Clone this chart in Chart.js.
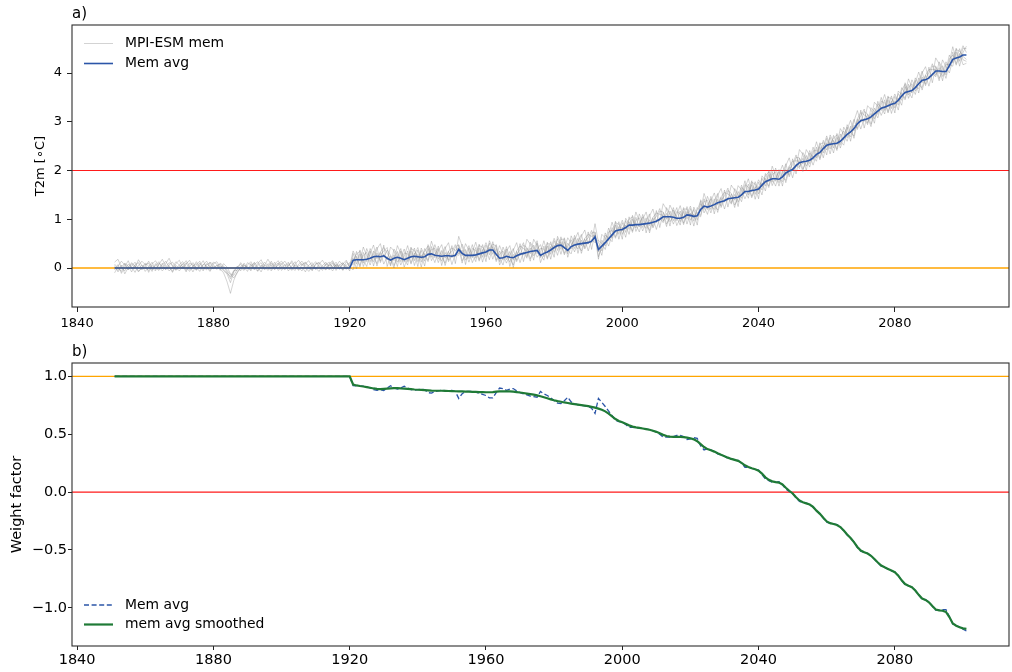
<!DOCTYPE html>
<html>
<head>
<meta charset="utf-8">
<title>T2m ensemble and weight factor</title>
<script src="https://cdn.jsdelivr.net/npm/chart.js@4.4.1/dist/chart.umd.min.js"></script>
<style>
    html, body { margin: 0; padding: 0; background: #ffffff; }
    #wrap { position: relative; width: 1012px; height: 672px; }
    canvas { position: absolute; left: 0; }
    #temp-chart { top: 0; }
    #weight-chart { top: 336px; }
</style>
</head>
<body>
<div id="wrap">
    <canvas id="temp-chart" width="1012" height="336"></canvas>
    <canvas id="weight-chart" width="1012" height="336"></canvas>
</div>
<script>
// Annual values, first year 1851
const firstYear = 1851;
const yearTicks = [1840, 1880, 1920, 1960, 2000, 2040, 2080];
const tempTicks = [0, 1, 2, 3, 4];
const weightTicks = [-1, -0.5, 0, 0.5, 1];

// T2m ensemble mean
const memAvg = [
    0, 0, 0, 0, 0, 0, 0, 0, 0, 0,
    0, 0, 0, 0, 0, 0, 0, 0, 0, 0,
    0, 0, 0, 0, 0, 0, 0, 0, 0, 0,
    0, 0, 0, 0, 0, 0, 0, 0, 0, 0,
    0, 0, 0, 0, 0, 0, 0, 0, 0, 0,
    0, 0, 0, 0, 0, 0, 0, 0, 0, 0,
    0, 0, 0, 0, 0, 0, 0, 0, 0, 0,
    0.16, 0.17, 0.17, 0.17, 0.18, 0.20, 0.23, 0.24, 0.23, 0.25,
    0.20, 0.16, 0.20, 0.22, 0.20, 0.17, 0.20, 0.23, 0.24, 0.23,
    0.22, 0.23, 0.28, 0.29, 0.26, 0.25, 0.24, 0.25, 0.25, 0.24,
    0.26, 0.38, 0.30, 0.26, 0.26, 0.26, 0.27, 0.29, 0.31, 0.33,
    0.37, 0.37, 0.28, 0.20, 0.21, 0.24, 0.22, 0.21, 0.25, 0.28,
    0.30, 0.32, 0.34, 0.35, 0.36, 0.26, 0.30, 0.33, 0.37, 0.42,
    0.46, 0.47, 0.42, 0.36, 0.44, 0.47, 0.49, 0.50, 0.51, 0.52,
    0.55, 0.64, 0.38, 0.45, 0.52, 0.60, 0.68, 0.76, 0.78, 0.79,
    0.83, 0.88, 0.88, 0.89, 0.89, 0.90, 0.91, 0.92, 0.94, 0.96,
    1.00, 1.05, 1.05, 1.05, 1.04, 1.02, 1.02, 1.04, 1.09, 1.08,
    1.06, 1.07, 1.20, 1.27, 1.25, 1.27, 1.30, 1.34, 1.36, 1.38,
    1.42, 1.43, 1.44, 1.45, 1.50, 1.57, 1.57, 1.59, 1.60, 1.62,
    1.70, 1.77, 1.80, 1.83, 1.83, 1.82, 1.87, 1.95, 1.99, 2.02,
    2.10, 2.16, 2.18, 2.19, 2.21, 2.26, 2.33, 2.37, 2.45, 2.52,
    2.54, 2.55, 2.56, 2.60, 2.67, 2.74, 2.79, 2.86, 2.96, 3.02,
    3.04, 3.06, 3.10, 3.16, 3.22, 3.28, 3.30, 3.33, 3.36, 3.38,
    3.44, 3.53, 3.60, 3.62, 3.64, 3.70, 3.78, 3.85, 3.86, 3.90,
    3.97, 4.04, 4.04, 4.03, 4.03, 4.15, 4.28, 4.31, 4.33, 4.37,
    4.37,
];

// MPI-ESM members
const member1 = [
    0.05, -0.08, 0.02, 0.10, -0.03, 0.04, 0.12, -0.02, 0.06, 0.01,
    -0.05, 0.08, 0.15, 0.03, -0.06, 0.02, 0.11, 0.05, -0.04, 0.07,
    0.13, 0.02, -0.07, 0.04, 0.09, -0.01, 0.06, 0.14, 0.03, -0.02,
    0.05, 0.08, -0.04, -0.10, -0.18, -0.05, -0.05, 0.03, 0.07, -0.02,
    0.04, 0.10, -0.06, 0.02, 0.12, 0.05, -0.03, 0.08, 0.15, 0.02,
    -0.04, 0.06, 0.11, -0.02, 0.04, 0.09, 0.01, -0.07, 0.05, 0.13,
    0.03, -0.05, 0.07, 0.12, 0.00, 0.06, -0.03, 0.10, 0.04, -0.06,
    0.30, 0.08, 0.37, 0.17, 0.03, 0.30, 0.47, 0.19, 0.32, 0.08,
    0.23, 0.04, 0.39, 0.27, 0.06, 0.24, 0.46, 0.20, 0.41, 0.13,
    0.27, 0.04, 0.40, 0.22, 0.48, 0.27, 0.14, 0.40, 0.52, 0.21,
    0.43, 0.48, 0.15, 0.24, 0.46, 0.21, 0.42, 0.17, 0.38, 0.13,
    0.56, 0.40, 0.13, 0.29, 0.35, 0.17, 0.34, 0.01, 0.28, 0.38,
    0.52, 0.23, 0.41, 0.16, 0.51, 0.28, 0.16, 0.50, 0.49, 0.39,
    0.60, 0.38, 0.62, 0.36, 0.29, 0.57, 0.73, 0.45, 0.60, 0.35,
    0.58, 0.52, 0.57, 0.50, 0.38, 0.67, 0.94, 0.73, 0.95, 0.69,
    0.88, 0.69, 1.00, 0.82, 1.11, 0.92, 0.81, 1.07, 1.21, 0.93,
    1.17, 1.15, 0.90, 1.03, 1.24, 0.97, 1.17, 0.92, 1.16, 0.88,
    1.25, 1.10, 1.05, 1.36, 1.39, 1.20, 1.42, 1.14, 1.39, 1.48,
    1.64, 1.34, 1.51, 1.26, 1.65, 1.59, 1.43, 1.76, 1.72, 1.59,
    1.84, 1.68, 2.00, 1.83, 1.68, 1.92, 2.11, 1.90, 2.08, 1.85,
    2.13, 2.04, 2.37, 2.24, 2.07, 2.33, 2.59, 2.34, 2.62, 2.42,
    2.59, 2.36, 2.68, 2.53, 2.89, 2.76, 2.69, 3.01, 3.23, 2.99,
    3.21, 3.16, 2.95, 3.14, 3.42, 3.23, 3.45, 3.21, 3.43, 3.18,
    3.63, 3.56, 3.45, 3.71, 3.78, 3.63, 3.90, 3.65, 3.89, 4.00,
    4.19, 3.95, 4.11, 3.84, 4.18, 4.17, 4.14, 4.48, 4.45, 4.34,
    4.28,
];
const member2 = [
    -0.10, 0.03, 0.14, 0.06, -0.04, 0.09, 0.00, 0.17, 0.05, -0.07,
    0.02, 0.12, -0.03, 0.07, 0.18, 0.04, -0.06, 0.01, 0.13, 0.06,
    -0.02, 0.08, 0.16, 0.03, -0.05, 0.10, 0.02, -0.04, 0.12, 0.07,
    -0.03, 0.04, 0.02, -0.08, -0.22, -0.06, 0.02, 0.08, -0.03, 0.11,
    0.06, -0.04, 0.09, 0.17, 0.03, -0.05, 0.10, 0.04, -0.02, 0.08,
    0.14, 0.02, -0.05, 0.08, 0.16, 0.05, 0.11, 0.00, -0.04, 0.07,
    0.12, 0.04, -0.03, 0.09, 0.15, 0.02, 0.07, -0.05, 0.06, 0.11,
    0.06, 0.34, 0.14, 0.43, 0.25, 0.06, 0.28, 0.43, 0.11, 0.28,
    0.17, 0.43, 0.35, 0.12, 0.22, 0.39, 0.13, 0.35, 0.05, 0.28,
    0.02, 0.30, 0.16, 0.44, 0.21, 0.45, 0.22, 0.10, 0.35, 0.41,
    0.36, 0.41, 0.10, 0.38, 0.19, 0.40, 0.36, 0.14, 0.34, 0.52,
    0.34, 0.49, 0.45, 0.06, 0.23, 0.39, 0.03, 0.28, 0.16, 0.50,
    0.13, 0.41, 0.29, 0.59, 0.46, 0.11, 0.30, 0.53, 0.28, 0.56,
    0.36, 0.64, 0.39, 0.62, 0.51, 0.33, 0.54, 0.69, 0.39, 0.55,
    0.52, 0.91, 0.53, 0.35, 0.54, 0.82, 0.61, 0.88, 0.59, 0.84,
    0.63, 0.95, 0.76, 1.04, 0.84, 1.10, 0.89, 0.77, 1.04, 1.13,
    1.10, 1.08, 0.85, 1.17, 0.97, 1.16, 1.11, 0.89, 1.12, 1.27,
    1.03, 1.19, 1.37, 1.13, 1.27, 1.42, 1.11, 1.41, 1.27, 1.60,
    1.25, 1.52, 1.39, 1.69, 1.60, 1.42, 1.57, 1.79, 1.51, 1.76,
    1.60, 1.94, 1.77, 2.09, 1.90, 1.68, 1.92, 2.14, 1.87, 2.05,
    2.07, 2.43, 2.33, 2.09, 2.23, 2.48, 2.26, 2.49, 2.26, 2.57,
    2.34, 2.62, 2.44, 2.75, 2.62, 2.94, 2.77, 2.71, 3.06, 3.19,
    3.14, 3.09, 2.90, 3.28, 3.15, 3.42, 3.39, 3.18, 3.39, 3.57,
    3.41, 3.65, 3.77, 3.48, 3.66, 3.85, 3.59, 3.92, 3.77, 4.12,
    3.80, 4.13, 3.99, 4.27, 4.13, 4.00, 4.28, 4.51, 4.24, 4.51,
    4.50,
];
const member3 = [
    0.12, 0.18, 0.01, -0.06, 0.08, 0.02, -0.09, 0.05, 0.14, 0.07,
    0.10, -0.04, 0.05, 0.13, -0.02, 0.09, 0.20, 0.04, -0.05, 0.03,
    0.07, 0.15, 0.04, -0.08, 0.06, 0.14, -0.03, 0.09, 0.02, 0.12,
    0.08, -0.02, -0.10, -0.28, -0.52, -0.25, -0.08, -0.01, 0.05, 0.03,
    -0.06, 0.07, 0.13, -0.01, 0.05, 0.18, 0.06, -0.04, 0.09, 0.14,
    0.05, 0.12, -0.03, 0.06, 0.01, -0.06, 0.09, 0.15, 0.03, -0.02,
    0.08, 0.16, 0.05, -0.04, 0.10, 0.03, 0.14, 0.06, -0.02, 0.09,
    0.21, -0.02, 0.29, 0.10, 0.40, 0.22, 0.13, 0.39, 0.50, 0.22,
    0.37, 0.26, 0.05, 0.20, 0.40, 0.12, 0.35, 0.11, 0.31, 0.03,
    0.41, 0.26, 0.13, 0.38, 0.40, 0.18, 0.36, 0.05, 0.28, 0.34,
    0.48, 0.29, 0.37, 0.07, 0.41, 0.28, 0.13, 0.46, 0.43, 0.30,
    0.51, 0.28, 0.48, 0.20, 0.06, 0.34, 0.46, 0.16, 0.34, 0.11,
    0.33, 0.20, 0.53, 0.40, 0.22, 0.33, 0.56, 0.30, 0.54, 0.32,
    0.51, 0.28, 0.54, 0.29, 0.66, 0.49, 0.39, 0.65, 0.78, 0.49,
    0.72, 0.74, 0.23, 0.43, 0.72, 0.55, 0.83, 0.64, 0.85, 0.59,
    1.02, 0.91, 0.73, 0.98, 1.03, 0.83, 1.03, 0.72, 0.97, 1.06,
    1.22, 0.96, 1.12, 0.86, 1.19, 1.04, 0.88, 1.21, 1.21, 1.05,
    1.20, 0.98, 1.40, 1.27, 1.10, 1.37, 1.54, 1.29, 1.45, 1.21,
    1.45, 1.31, 1.63, 1.50, 1.36, 1.64, 1.83, 1.56, 1.77, 1.52,
    1.75, 1.58, 1.92, 1.76, 2.05, 1.84, 1.77, 2.10, 2.26, 1.99,
    2.27, 2.26, 2.03, 2.17, 2.41, 2.21, 2.48, 2.25, 2.52, 2.32,
    2.73, 2.58, 2.41, 2.69, 2.81, 2.67, 2.91, 2.66, 2.99, 3.12,
    3.26, 2.97, 3.17, 2.97, 3.37, 3.30, 3.16, 3.50, 3.48, 3.35,
    3.58, 3.44, 3.80, 3.62, 3.49, 3.80, 4.02, 3.80, 3.95, 3.73,
    4.00, 3.92, 4.23, 4.08, 3.89, 4.22, 4.54, 4.28, 4.50, 4.27,
    4.24,
];
const member4 = [
    -0.04, 0.07, -0.11, 0.03, 0.15, -0.02, 0.05, -0.08, 0.01, 0.10,
    0.04, -0.07, 0.09, -0.03, 0.06, 0.14, 0.02, -0.09, 0.05, 0.00,
    0.09, -0.05, 0.03, 0.11, -0.04, 0.05, 0.15, 0.01, -0.07, 0.04,
    0.00, 0.10, 0.04, -0.05, -0.14, -0.20, -0.10, 0.01, -0.05, 0.06,
    0.13, 0.01, -0.07, 0.06, -0.02, 0.09, 0.03, 0.12, -0.05, 0.01,
    0.07, -0.06, 0.04, 0.13, -0.03, 0.02, -0.08, 0.06, 0.11, 0.00,
    -0.07, 0.05, 0.12, 0.01, -0.06, 0.08, 0.02, -0.04, 0.13, 0.03,
    -0.04, 0.24, 0.05, 0.32, 0.13, 0.40, 0.21, 0.09, 0.33, 0.42,
    0.30, 0.19, 0.00, 0.34, 0.13, 0.31, 0.29, 0.08, 0.27, 0.42,
    0.19, 0.35, 0.45, 0.15, 0.28, 0.40, 0.05, 0.32, 0.16, 0.46,
    0.09, 0.47, 0.25, 0.50, 0.36, 0.11, 0.27, 0.49, 0.22, 0.47,
    0.27, 0.54, 0.25, 0.46, 0.28, 0.10, 0.27, 0.40, 0.13, 0.31,
    0.27, 0.59, 0.49, 0.25, 0.38, 0.48, 0.23, 0.45, 0.18, 0.47,
    0.26, 0.54, 0.30, 0.51, 0.39, 0.67, 0.47, 0.35, 0.61, 0.69,
    0.65, 0.67, 0.18, 0.57, 0.45, 0.74, 0.77, 0.61, 0.81, 0.98,
    0.80, 1.00, 1.05, 0.75, 0.91, 1.05, 0.72, 0.99, 0.85, 1.18,
    0.83, 1.14, 1.00, 1.29, 1.14, 0.87, 1.02, 1.24, 1.00, 1.22,
    0.96, 1.24, 1.17, 1.53, 1.32, 1.13, 1.35, 1.53, 1.24, 1.41,
    1.39, 1.70, 1.59, 1.35, 1.52, 1.79, 1.50, 1.71, 1.41, 1.67,
    1.50, 1.84, 1.68, 1.98, 1.78, 2.02, 1.85, 1.80, 2.09, 2.19,
    2.20, 2.19, 1.98, 2.31, 2.14, 2.40, 2.42, 2.22, 2.48, 2.71,
    2.51, 2.67, 2.73, 2.46, 2.69, 2.89, 2.60, 2.93, 2.87, 3.24,
    2.87, 3.15, 3.05, 3.40, 3.32, 3.13, 3.30, 3.53, 3.27, 3.52,
    3.34, 3.70, 3.57, 3.88, 3.71, 3.56, 3.83, 4.04, 3.74, 3.93,
    3.94, 4.31, 4.19, 3.93, 4.05, 4.37, 4.21, 4.43, 4.14, 4.42,
    4.55,
];
const member5 = [
    0.02, -0.05, 0.06, -0.12, 0.01, 0.11, 0.04, -0.06, -0.01, 0.08,
    -0.09, 0.05, 0.00, -0.05, 0.10, -0.04, 0.07, 0.12, 0.01, -0.06,
    0.04, -0.08, 0.10, 0.06, 0.01, -0.07, 0.08, 0.04, -0.05, 0.09,
    0.13, 0.02, -0.06, -0.12, -0.30, -0.08, 0.04, -0.06, 0.10, 0.00,
    -0.03, 0.12, 0.02, -0.08, 0.07, 0.01, -0.06, 0.05, 0.10, -0.05,
    0.03, 0.09, 0.00, -0.05, 0.08, 0.14, 0.04, -0.02, 0.07, -0.03,
    0.05, -0.02, 0.09, 0.04, 0.13, -0.05, 0.06, 0.11, -0.03, 0.04,
    0.35, 0.20, 0.02, 0.26, 0.32, 0.13, 0.35, 0.04, 0.26, 0.35,
    0.42, 0.07, 0.27, 0.03, 0.35, 0.19, 0.06, 0.40, 0.36, 0.20,
    0.36, 0.14, 0.48, 0.29, 0.11, 0.35, 0.48, 0.20, 0.34, 0.07,
    0.29, 0.26, 0.49, 0.31, 0.12, 0.33, 0.53, 0.26, 0.48, 0.23,
    0.42, 0.18, 0.40, 0.13, 0.43, 0.26, 0.12, 0.36, 0.52, 0.25,
    0.47, 0.42, 0.19, 0.33, 0.56, 0.21, 0.45, 0.21, 0.44, 0.22,
    0.65, 0.50, 0.27, 0.45, 0.58, 0.40, 0.61, 0.30, 0.54, 0.62,
    0.77, 0.55, 0.45, 0.26, 0.67, 0.62, 0.54, 0.93, 0.90, 0.76,
    0.97, 0.79, 1.08, 0.89, 0.74, 1.00, 1.15, 0.87, 1.03, 0.79,
    1.03, 0.93, 1.24, 1.10, 0.90, 1.09, 1.28, 1.01, 1.26, 0.98,
    1.11, 0.88, 1.32, 1.20, 1.47, 1.29, 1.20, 1.49, 1.63, 1.35,
    1.59, 1.53, 1.29, 1.43, 1.70, 1.52, 1.72, 1.47, 1.67, 1.42,
    1.89, 1.80, 1.65, 1.92, 1.97, 1.75, 1.99, 1.75, 2.02, 2.12,
    2.32, 2.07, 2.25, 2.00, 2.36, 2.28, 2.19, 2.54, 2.57, 2.49,
    2.68, 2.46, 2.76, 2.60, 2.52, 2.84, 3.03, 2.81, 3.05, 2.85,
    3.07, 2.94, 3.29, 3.21, 3.08, 3.35, 3.56, 3.30, 3.53, 3.28,
    3.49, 3.34, 3.72, 3.55, 3.86, 3.72, 3.68, 4.00, 4.13, 3.87,
    4.14, 4.14, 3.89, 4.01, 4.23, 4.10, 4.43, 4.19, 4.40, 4.17,
    4.20,
];
const member6 = [
    0.08, 0.00, -0.07, 0.09, 0.04, -0.08, 0.07, 0.11, -0.04, 0.03,
    0.14, 0.01, -0.06, 0.10, 0.03, -0.02, 0.05, -0.07, 0.09, 0.16,
    0.00, 0.11, -0.03, 0.02, 0.13, 0.03, -0.06, 0.07, 0.11, -0.01,
    0.06, -0.05, 0.09, 0.02, -0.12, -0.15, -0.03, 0.11, 0.02, -0.07,
    0.09, -0.02, 0.05, 0.11, -0.04, 0.03, 0.14, -0.01, 0.06, 0.10,
    -0.02, 0.04, 0.15, 0.03, -0.05, 0.07, 0.12, 0.04, -0.06, 0.09,
    0.10, 0.01, -0.04, 0.07, 0.03, 0.12, -0.01, 0.08, 0.16, 0.02,
    0.13, 0.29, 0.34, 0.03, 0.20, 0.35, 0.04, 0.31, 0.14, 0.47,
    0.03, 0.25, 0.15, 0.46, 0.30, 0.02, 0.20, 0.43, 0.15, 0.37,
    0.12, 0.40, 0.25, 0.55, 0.33, 0.11, 0.29, 0.44, 0.13, 0.27,
    0.23, 0.65, 0.45, 0.16, 0.28, 0.48, 0.20, 0.41, 0.12, 0.38,
    0.17, 0.44, 0.16, 0.35, 0.16, 0.44, 0.20, 0.06, 0.35, 0.45,
    0.40, 0.35, 0.14, 0.47, 0.29, 0.40, 0.39, 0.18, 0.40, 0.61,
    0.43, 0.59, 0.59, 0.22, 0.46, 0.62, 0.30, 0.57, 0.42, 0.74,
    0.38, 0.73, 0.33, 0.69, 0.62, 0.45, 0.68, 0.96, 0.69, 0.93,
    0.73, 1.05, 0.85, 1.15, 0.96, 0.76, 0.96, 1.11, 0.82, 0.99,
    0.97, 1.32, 1.20, 0.95, 1.06, 1.24, 0.95, 1.16, 0.90, 1.13,
    0.86, 1.14, 1.08, 1.42, 1.20, 1.47, 1.28, 1.19, 1.46, 1.55,
    1.52, 1.46, 1.24, 1.57, 1.43, 1.71, 1.66, 1.44, 1.63, 1.81,
    1.67, 1.89, 1.97, 1.69, 1.85, 1.97, 1.68, 2.02, 1.90, 2.24,
    1.93, 2.25, 2.13, 2.43, 2.31, 2.11, 2.33, 2.57, 2.36, 2.66,
    2.44, 2.72, 2.53, 2.86, 2.74, 2.60, 2.84, 3.05, 2.84, 3.05,
    3.01, 3.33, 3.25, 3.06, 3.24, 3.50, 3.23, 3.45, 3.17, 3.43,
    3.24, 3.60, 3.48, 3.77, 3.59, 3.90, 3.76, 3.70, 3.96, 4.07,
    4.07, 4.07, 3.84, 4.15, 3.96, 4.29, 4.37, 4.16, 4.36, 4.56,
    4.42,
];

// Weight factor of the ensemble mean, raw and smoothed
const weightAvg = [
    1, 1, 1, 1, 1, 1, 1, 1, 1, 1,
    1, 1, 1, 1, 1, 1, 1, 1, 1, 1,
    1, 1, 1, 1, 1, 1, 1, 1, 1, 1,
    1, 1, 1, 1, 1, 1, 1, 1, 1, 1,
    1, 1, 1, 1, 1, 1, 1, 1, 1, 1,
    1, 1, 1, 1, 1, 1, 1, 1, 1, 1,
    1, 1, 1, 1, 1, 1, 1, 1, 1, 1,
    0.920, 0.918, 0.915, 0.915, 0.910, 0.900, 0.885, 0.880, 0.885, 0.878,
    0.900, 0.920, 0.900, 0.890, 0.900, 0.915, 0.900, 0.885, 0.880, 0.885,
    0.890, 0.885, 0.860, 0.855, 0.870, 0.875, 0.880, 0.878, 0.878, 0.880,
    0.870, 0.810, 0.850, 0.870, 0.870, 0.870, 0.865, 0.855, 0.845, 0.835,
    0.815, 0.815, 0.860, 0.900, 0.895, 0.880, 0.890, 0.895, 0.875, 0.860,
    0.850, 0.840, 0.830, 0.825, 0.820, 0.870, 0.850, 0.835, 0.815, 0.790,
    0.770, 0.765, 0.790, 0.820, 0.780, 0.765, 0.755, 0.750, 0.745, 0.740,
    0.725, 0.680, 0.810, 0.775, 0.740, 0.700, 0.660, 0.620, 0.610, 0.605,
    0.585, 0.560, 0.560, 0.555, 0.555, 0.550, 0.545, 0.540, 0.530, 0.520,
    0.500, 0.475, 0.475, 0.475, 0.480, 0.490, 0.490, 0.480, 0.455, 0.460,
    0.470, 0.465, 0.400, 0.365, 0.375, 0.365, 0.350, 0.330, 0.320, 0.310,
    0.290, 0.285, 0.280, 0.275, 0.250, 0.215, 0.215, 0.205, 0.200, 0.190,
    0.150, 0.115, 0.100, 0.085, 0.085, 0.090, 0.065, 0.025, 0.005, -0.010,
    -0.050, -0.080, -0.090, -0.095, -0.105, -0.130, -0.165, -0.185, -0.225, -0.260,
    -0.270, -0.275, -0.280, -0.300, -0.335, -0.370, -0.395, -0.430, -0.480, -0.510,
    -0.520, -0.530, -0.550, -0.580, -0.610, -0.640, -0.650, -0.665, -0.680, -0.690,
    -0.720, -0.765, -0.800, -0.810, -0.820, -0.850, -0.890, -0.925, -0.930, -0.950,
    -0.985, -1.020, -1.020, -1.015, -1.015, -1.075, -1.140, -1.155, -1.165, -1.185,
    -1.200,
];
const weightSmoothed = [
    1, 1, 1, 1, 1, 1, 1, 1, 1, 1,
    1, 1, 1, 1, 1, 1, 1, 1, 1, 1,
    1, 1, 1, 1, 1, 1, 1, 1, 1, 1,
    1, 1, 1, 1, 1, 1, 1, 1, 1, 1,
    1, 1, 1, 1, 1, 1, 1, 1, 1, 1,
    1, 1, 1, 1, 1, 1, 1, 1, 1, 1,
    1, 1, 1, 1, 1, 1, 1, 1, 1, 1,
    0.930, 0.922, 0.917, 0.913, 0.908, 0.902, 0.896, 0.892, 0.890, 0.892,
    0.894, 0.896, 0.898, 0.898, 0.896, 0.895, 0.893, 0.890, 0.887, 0.885,
    0.883, 0.881, 0.879, 0.877, 0.876, 0.876, 0.876, 0.875, 0.874, 0.873,
    0.872, 0.871, 0.870, 0.869, 0.868, 0.867, 0.866, 0.865, 0.864, 0.863,
    0.863, 0.865, 0.868, 0.870, 0.871, 0.871, 0.870, 0.868, 0.865, 0.861,
    0.857, 0.852, 0.847, 0.842, 0.836, 0.829, 0.820, 0.811, 0.802, 0.794,
    0.787, 0.781, 0.775, 0.770, 0.765, 0.760, 0.756, 0.752, 0.748, 0.743,
    0.737, 0.730, 0.722, 0.712, 0.698, 0.678, 0.655, 0.632, 0.615, 0.603,
    0.590, 0.577, 0.566, 0.559, 0.555, 0.550, 0.545, 0.539, 0.531, 0.521,
    0.508, 0.495, 0.485, 0.479, 0.477, 0.477, 0.477, 0.475, 0.471, 0.465,
    0.456, 0.440, 0.415, 0.390, 0.372, 0.362, 0.350, 0.336, 0.323, 0.311,
    0.298, 0.287, 0.279, 0.270, 0.253, 0.232, 0.217, 0.206, 0.198, 0.185,
    0.160, 0.128, 0.106, 0.093, 0.086, 0.082, 0.066, 0.038, 0.012, -0.012,
    -0.045, -0.072, -0.088, -0.097, -0.107, -0.128, -0.160, -0.188, -0.222, -0.253,
    -0.268, -0.276, -0.284, -0.302, -0.332, -0.366, -0.396, -0.432, -0.474, -0.505,
    -0.520, -0.531, -0.550, -0.578, -0.608, -0.635, -0.650, -0.664, -0.678, -0.692,
    -0.722, -0.762, -0.795, -0.810, -0.822, -0.850, -0.888, -0.920, -0.932, -0.952,
    -0.985, -1.015, -1.022, -1.025, -1.035, -1.080, -1.135, -1.155, -1.168, -1.178,
    -1.182,
];

const X_MIN = 1838.5;
const X_MAX = 2113.5;

const years = memAvg.map((_, i) => firstYear + i);
const asPoints = (values) => values.map((v, i) => ({ x: years[i], y: v }));
const hline = (y) => [{ x: X_MIN, y: y }, { x: X_MAX, y: y }];

const BLUE = '#2b55a8';
const GREY = 'rgba(125, 125, 125, 0.34)';
const GREEN = '#1f7a36';
const ORANGE = '#ffa500';
const RED = '#ff1a1a';

Chart.defaults.font.family = '"DejaVu Sans", sans-serif';
Chart.defaults.color = '#000000';

// Frame, panel letter and in-axes legend
const panelDecor = {
    id: 'panelDecor',
    afterDraw(chart, args, opts) {
        const { ctx, chartArea: area } = chart;
        ctx.save();

        ctx.strokeStyle = '#2e2e2e';
        ctx.lineWidth = 1.1;
        ctx.strokeRect(area.left, area.top, area.right - area.left, area.bottom - area.top);

        ctx.fillStyle = '#000000';
        ctx.textBaseline = 'alphabetic';
        ctx.textAlign = 'left';
        ctx.font = '15px "DejaVu Sans"';
        ctx.fillText(opts.label, area.left, area.top - 7.5);

        ctx.font = opts.legendFont;
        ctx.textBaseline = 'middle';
        opts.entries.forEach((label, i) => {
            const ds = chart.data.datasets.find(d => d.label === label);
            const y = opts.fromBottom
                ? area.bottom - opts.legendOffset + i * opts.rowGap
                : area.top + opts.legendOffset + i * opts.rowGap;
            ctx.strokeStyle = ds.borderColor;
            ctx.lineWidth = ds.borderWidth;
            ctx.setLineDash(ds.borderDash || []);
            ctx.beginPath();
            ctx.moveTo(area.left + 12, y);
            ctx.lineTo(area.left + 41, y);
            ctx.stroke();
            ctx.setLineDash([]);
            ctx.fillText(label, area.left + 53, y);
        });

        ctx.restore();
    }
};

const lineDefaults = {
    pointRadius: 0,
    tension: 0,
    fill: false,
};

const xAxis = (height, tickLength, padding, fontSize) => ({
    type: 'linear',
    min: X_MIN,
    max: X_MAX,
    afterBuildTicks: (axis) => { axis.ticks = yearTicks.map(v => ({ value: v })); },
    afterFit: (axis) => { axis.height = height; },
    ticks: {
        callback: (value) => String(value),
        font: { size: fontSize },
        color: '#000000',
        padding: padding,
        maxRotation: 0,
    },
    grid: { drawOnChartArea: false, tickLength: tickLength, tickColor: '#222222', tickWidth: 1 },
    border: { display: false },
});

const renderTempChart = () => {
    const context = document.querySelector('canvas#temp-chart').getContext('2d');

    const memberRuns = [member1, member2, member3, member4, member5, member6];
    const memberSets = memberRuns.map((run, i) => ({
        ...lineDefaults,
        label: i === 0 ? 'MPI-ESM mem' : 'MPI-ESM mem ' + (i + 1),
        data: asPoints(run),
        borderColor: GREY,
        borderWidth: 1,
    }));

    return new Chart(context, {
        type: 'line',
        data: {
            datasets: [
                {
                    ...lineDefaults,
                    label: 'Mem avg',
                    data: asPoints(memAvg),
                    borderColor: BLUE,
                    borderWidth: 1.6,
                },
                ...memberSets,
                {
                    ...lineDefaults,
                    label: '2 degree',
                    data: hline(2),
                    borderColor: RED,
                    borderWidth: 1.1,
                },
                {
                    ...lineDefaults,
                    label: '0 degree',
                    data: hline(0),
                    borderColor: ORANGE,
                    borderWidth: 1.3,
                },
            ]
        },
        options: {
            responsive: false,
            animation: false,
            events: [],
            layout: { padding: { left: 0, top: 25, right: 3, bottom: 0 } },
            scales: {
                x: xAxis(29, 5, 4, 13),
                y: {
                    type: 'linear',
                    min: -0.8,
                    max: 4.985,
                    afterBuildTicks: (axis) => { axis.ticks = tempTicks.map(v => ({ value: v })); },
                    afterFit: (axis) => { axis.width = 72; },
                    ticks: {
                        callback: (value) => String(value),
                        font: { size: 13 },
                        color: '#000000',
                        padding: 5,
                    },
                    grid: { drawOnChartArea: false, tickLength: 5, tickColor: '#222222', tickWidth: 1 },
                    border: { display: false },
                    title: {
                        display: true,
                        text: 'T2m [\u2218C]',
                        font: { size: 13 },
                        color: '#000000',
                        padding: { top: 33, bottom: 0 },
                    },
                },
            },
            plugins: {
                legend: { display: false },
                tooltip: { enabled: false },
                panelDecor: {
                    label: 'a)',
                    entries: ['MPI-ESM mem', 'Mem avg'],
                    legendFont: '13.9px "DejaVu Sans"',
                    fromBottom: false,
                    legendOffset: 18.5,
                    rowGap: 20,
                },
            },
        },
        plugins: [panelDecor],
    });
};

const renderWeightChart = () => {
    const context = document.querySelector('canvas#weight-chart').getContext('2d');

    return new Chart(context, {
        type: 'line',
        data: {
            datasets: [
                {
                    ...lineDefaults,
                    label: 'mem avg smoothed',
                    data: asPoints(weightSmoothed),
                    borderColor: GREEN,
                    borderWidth: 2.2,
                },
                {
                    ...lineDefaults,
                    label: 'Mem avg',
                    data: asPoints(weightAvg),
                    borderColor: BLUE,
                    borderWidth: 1.3,
                    borderDash: [5, 2.6],
                },
                {
                    ...lineDefaults,
                    label: 'zero weight',
                    data: hline(0),
                    borderColor: RED,
                    borderWidth: 1.1,
                },
                {
                    ...lineDefaults,
                    label: 'full weight',
                    data: hline(1),
                    borderColor: ORANGE,
                    borderWidth: 1.3,
                },
            ]
        },
        options: {
            responsive: false,
            animation: false,
            events: [],
            layout: { padding: { left: 0, top: 27, right: 3, bottom: 0 } },
            scales: {
                x: xAxis(26, 4, 2, 14.5),
                y: {
                    type: 'linear',
                    min: -1.33,
                    max: 1.116,
                    afterBuildTicks: (axis) => { axis.ticks = weightTicks.map(v => ({ value: v })); },
                    afterFit: (axis) => { axis.width = 72; },
                    ticks: {
                        callback: (value) => value.toFixed(1).replace('-', '\u2212'),
                        font: { size: 14.5 },
                        color: '#000000',
                        padding: 1,
                    },
                    grid: { drawOnChartArea: false, tickLength: 4, tickColor: '#222222', tickWidth: 1 },
                    border: { display: false },
                    title: {
                        display: true,
                        text: 'Weight factor',
                        font: { size: 14.5 },
                        color: '#000000',
                        padding: { top: 9, bottom: 0 },
                    },
                },
            },
            plugins: {
                legend: { display: false },
                tooltip: { enabled: false },
                panelDecor: {
                    label: 'b)',
                    entries: ['Mem avg', 'mem avg smoothed'],
                    legendFont: '13.9px "DejaVu Sans"',
                    fromBottom: true,
                    legendOffset: 41,
                    rowGap: 19.5,
                },
            },
        },
        plugins: [panelDecor],
    });
};

renderTempChart();
renderWeightChart();
</script>
</body>
</html>
